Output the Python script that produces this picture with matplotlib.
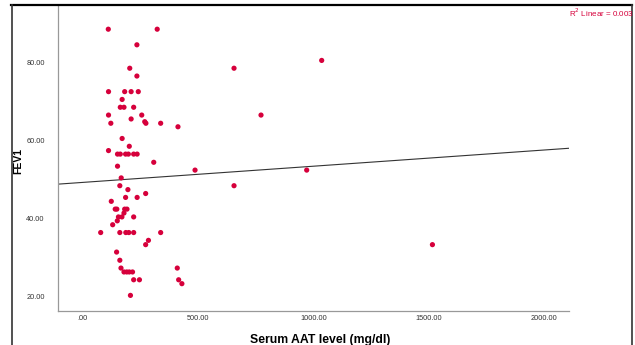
import matplotlib
matplotlib.use('Agg')
import matplotlib.pyplot as plt
from matplotlib.ticker import FuncFormatter
from matplotlib.lines import Line2D

plt.rcParams['font.family'] = ['Liberation Sans', 'DejaVu Sans']

# serum AAT (mg/dl) and FEV1
aat = [110, 322, 234, 203, 655, 234, 111, 181, 209, 240,
       170, 162, 178, 220, 111, 255, 772, 121, 209, 268,
       273, 337, 412, 170, 201, 111, 150, 162, 185, 197,
       220, 235, 307, 150, 486, 970, 166, 655, 160, 195,
       272, 185, 235, 123, 140, 147, 181, 191, 178, 154,
       169, 220, 149, 129, 77, 160, 186, 199, 220, 337,
       284, 272, 1515, 146, 160, 165, 409, 178, 190, 201,
       215, 220, 245, 415, 429, 206, 1035]
fev1 = [88.5, 88.5, 84.5, 78.5, 78.5, 76.5, 72.5, 72.5, 72.5, 72.5,
        70.5, 68.5, 68.5, 68.5, 66.5, 66.5, 66.5, 64.4, 65.5, 64.8,
        64.4, 64.4, 63.5, 60.5, 58.5, 57.4, 56.5, 56.5, 56.5, 56.5,
        56.5, 56.5, 54.4, 53.4, 52.4, 52.4, 50.4, 48.4, 48.4, 47.4,
        46.4, 45.4, 45.4, 44.4, 42.4, 42.4, 42.4, 42.4, 41.4, 40.4,
        40.4, 40.4, 39.4, 38.4, 36.4, 36.4, 36.4, 36.4, 36.4, 36.4,
        34.4, 33.3, 33.3, 31.4, 29.3, 27.3, 27.3, 26.3, 26.3, 26.3,
        26.3, 24.3, 24.3, 24.3, 23.3, 20.3, 80.5]

# fit line as drawn (intercept, slope)
fit_b0 = 49.25
fit_b1 = 0.00415
r2_text = 'R$^2$ Linear = 0.003'

xticks = [0, 500, 1000, 1500, 2000]
yticks = [20, 40, 60, 80]
xlim = (-108, 2107)
ylim = (16.3, 94.7)

red = '#d6003b'

fig = plt.figure(figsize=(6.35, 3.45), dpi=100)
ax = fig.add_axes([58/635, 34/345, 511/635, 306/345])

ax.scatter(aat, fev1, s=14, color=red, edgecolors='none', zorder=3)
ax.plot(list(xlim), [fit_b0 + fit_b1*v for v in xlim], color='#333333', lw=0.8, zorder=2)

ax.set_xlim(*xlim)
ax.set_ylim(*ylim)
ax.set_xticks(xticks)
ax.set_yticks(yticks)
fmt = FuncFormatter(lambda v, p: '.00' if v == 0 else '%.2f' % v)
ax.xaxis.set_major_formatter(fmt)
ax.yaxis.set_major_formatter(fmt)
ax.tick_params(length=0, labelsize=5.3, labelcolor='#333333')
ax.tick_params(axis='y', pad=9.5)
ax.tick_params(axis='x', pad=3)

for s in ['top', 'right']:
    ax.spines[s].set_visible(False)
for s in ['left', 'bottom']:
    ax.spines[s].set_color('#999999')
    ax.spines[s].set_linewidth(0.9)

ax.set_xlabel('Serum AAT level (mg/dl)', fontsize=8.8, fontweight='bold')
ax.xaxis.set_label_coords(0.513, -0.074)
ax.set_ylabel('FEV1', fontsize=7.5, fontweight='bold')
ax.yaxis.set_label_coords(-0.068, 0.49)

# outer chart frame
W, H = 635.0, 345.0
fig.add_artist(Line2D([11/W, 632/W], [1 - 5/H, 1 - 5/H], color='black', lw=1.6))
fig.add_artist(Line2D([12/W, 12/W], [0, 1 - 5/H], color='#333333', lw=1.2))
fig.add_artist(Line2D([632/W, 632/W], [0, 1 - 5/H], color='#333333', lw=1.2))

fig.text(569/W, 1 - 13/H, r2_text, color=red, fontsize=5.8, ha='left', va='center')

fig.savefig('out.png', dpi=100)
